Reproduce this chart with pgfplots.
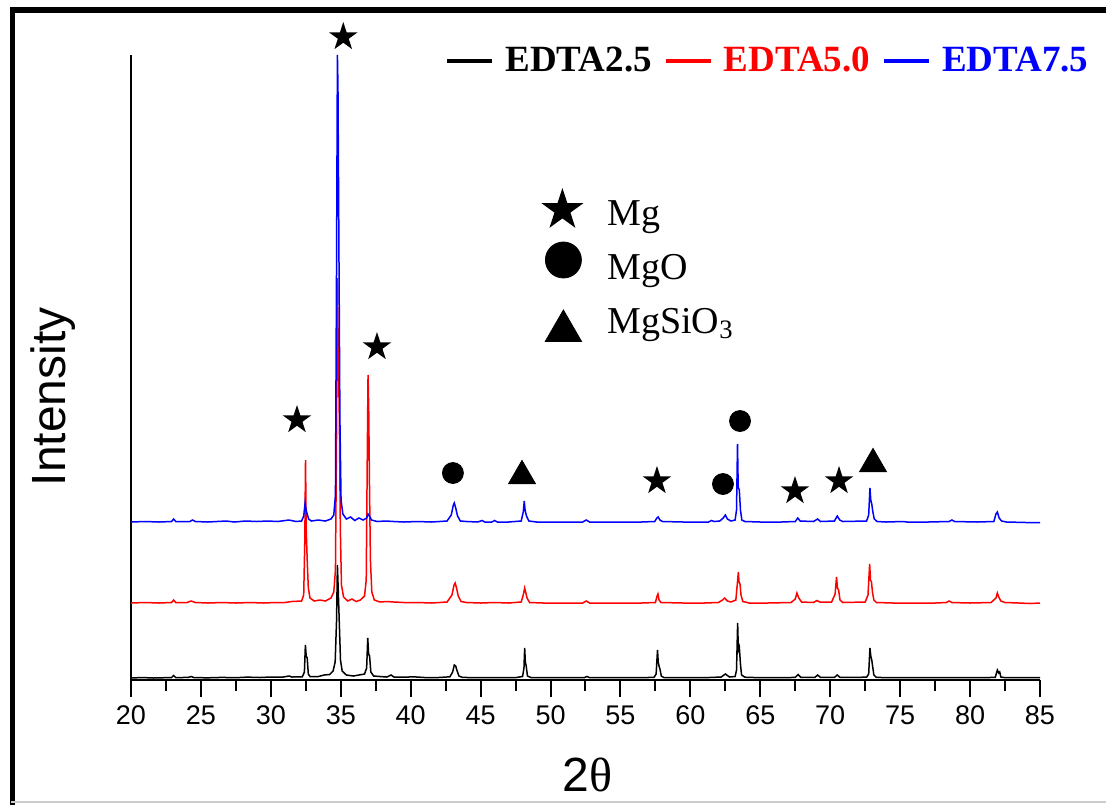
\documentclass[border=0pt]{standalone}
\usepackage{pgfplots}
\pgfplotsset{compat=1.18}
\usepackage{fontspec}
\setmainfont{Liberation Serif}
\setsansfont{Liberation Sans}
\pgfdeclareplotmark{fstar}{%
 \pgfpathmoveto{\pgfpointpolar{90}{\pgfplotmarksize}}%
 \pgfpathlineto{\pgfpointpolar{126}{0.382*\pgfplotmarksize}}%
 \pgfpathlineto{\pgfpointpolar{162}{\pgfplotmarksize}}%
 \pgfpathlineto{\pgfpointpolar{198}{0.382*\pgfplotmarksize}}%
 \pgfpathlineto{\pgfpointpolar{234}{\pgfplotmarksize}}%
 \pgfpathlineto{\pgfpointpolar{270}{0.382*\pgfplotmarksize}}%
 \pgfpathlineto{\pgfpointpolar{306}{\pgfplotmarksize}}%
 \pgfpathlineto{\pgfpointpolar{342}{0.382*\pgfplotmarksize}}%
 \pgfpathlineto{\pgfpointpolar{18}{\pgfplotmarksize}}%
 \pgfpathlineto{\pgfpointpolar{54}{0.382*\pgfplotmarksize}}%
 \pgfpathclose
 \pgfusepathqfill}
\pgfplotstableread{
x y
20.0 2
20.8 2.5
21.6 2
22.4 2.3
22.9 2.4
23.05 4.5
23.2 2.4
24.1 2.6
24.3 3.5
24.5 2.4
25.5 2.2
26.5 2.6
27.5 2.3
28.3 2.9
29.2 2.5
30.0 3.0
30.8 2.8
31.3 4.0
31.5 3.0
32.25 3.2
32.4 8
32.47 35
32.53 24
32.6 22
32.68 6
32.8 3.5
33.4 3.5
33.8 5
34.2 5.5
34.45 9
34.6 18
34.7 60
34.76 115
34.82 90
34.9 55
34.98 20
35.1 9
35.4 5
35.9 4
36.3 5
36.7 6
36.85 12
36.93 42
36.99 26
37.06 24
37.15 8
37.35 4
37.8 3.5
38.3 3
38.6 5
38.8 3
39.5 2.8
40.2 3.2
41.0 2.5
42.0 2.5
42.8 3.2
43.0 8
43.12 15
43.22 14
43.3 10
43.45 4
43.7 2.6
44.5 2.4
45.5 2.3
46.5 2.3
47.5 2.4
48.0 3.5
48.1 12
48.15 32
48.2 18
48.26 14
48.35 4
48.6 2.5
49.5 2.3
51.0 2.3
52.4 2.3
52.6 3.5
52.8 2.3
54.5 2.3
56.0 2.3
57.4 2.6
57.55 6
57.65 30
57.7 18
57.76 14
57.84 10
57.92 4
58.1 2.5
59.5 2.3
61.0 2.3
62.2 3
62.5 6
62.8 3
63.2 3.5
63.3 10
63.38 57
63.43 30
63.5 33
63.58 16
63.66 5
63.9 2.8
65.0 2.3
66.5 2.3
67.5 2.6
67.7 5.5
67.9 2.6
68.9 2.6
69.1 5
69.3 2.6
70.3 2.6
70.5 5
70.7 2.6
72.6 2.8
72.75 6
72.84 32
72.9 24
72.97 20
73.04 13
73.12 5
73.3 2.6
74.5 2.3
76.0 2.3
77.5 2.3
79.0 2.3
80.5 2.3
81.8 2.6
81.95 10
82.05 7
82.12 8
82.2 3
82.5 2.3
84.0 2.3
85.0 2.3
}\edtaA
\pgfplotstableread{
x y
20.0 77
21.0 77.5
22.0 77
22.9 77.5
23.05 80
23.2 77.5
24.0 77.5
24.3 79
24.6 77.5
25.5 77
26.5 77.5
27.5 77
28.5 77.5
29.5 77
30.3 77.5
31.0 77.5
31.5 78.5
32.2 79
32.35 85
32.43 140
32.48 220
32.53 150
32.6 120
32.68 92
32.8 82
33.1 79
33.5 80
33.9 79
34.3 82
34.5 88
34.62 110
34.7 250
34.76 402
34.82 330
34.9 260
34.97 150
35.05 95
35.2 83
35.5 79
35.8 81
36.1 78.5
36.4 80
36.7 84
36.82 100
36.9 230
36.95 305
37.0 270
37.05 200
37.12 120
37.22 88
37.4 80
37.8 78
38.3 78.5
38.8 78
39.5 77.5
40.5 77.5
41.5 77
42.6 78
42.95 85
43.1 95
43.18 97
43.28 92
43.4 84
43.6 78.5
44.0 77.5
45.0 77
46.0 77.5
47.0 77
47.9 78
48.05 85
48.15 92
48.22 88
48.32 82
48.5 77.5
49.5 77
50.5 77
52.3 77
52.55 79
52.8 77
54.5 77
56.5 77
57.5 77.5
57.62 84
57.68 86
57.76 80
57.9 77.5
59.5 77
61.0 77
62.0 77.5
62.3 80
62.45 82
62.65 79
62.9 78
63.25 80
63.35 95
63.43 108
63.48 98
63.55 96
63.62 85
63.75 78.5
64.2 77
65.5 77
67.2 77.5
67.5 81
67.62 87
67.75 82
67.95 78
68.8 77.5
69.05 79.5
69.25 78
70.1 78
70.35 86
70.45 103
70.52 92
70.6 90
70.7 80
70.9 77.5
72.5 78
72.7 85
72.82 116
72.88 100
72.95 98
73.02 88
73.12 80
73.3 77.5
74.5 77
76.0 77
77.5 77
78.3 77.5
78.5 79
78.7 77.5
80.0 77
81.5 77.5
81.85 82
81.95 87
82.05 83
82.2 79
82.5 77.5
83.5 77
84.3 76.5
85.0 77
}\edtaB
\pgfplotstableread{
x y
20.0 158
21.0 158.5
22.0 158
22.9 158.5
23.05 161
23.2 158.5
24.2 158.5
24.4 160
24.6 158.5
25.5 158
26.8 159
27.4 158
28.2 159
29.0 158.5
29.8 159
30.5 158.5
31.3 160
31.8 158.5
32.2 159
32.35 164
32.45 177
32.52 170
32.6 166
32.7 161
32.9 159
33.4 160
33.9 159
34.3 161
34.5 165
34.62 185
34.7 420
34.76 625
34.8 593
34.86 450
34.94 260
35.02 180
35.15 166
35.4 161
35.7 163
36.0 159.5
36.3 162
36.6 160
36.85 162
36.95 166
37.05 164
37.2 160
37.6 158.5
38.2 159
38.8 158.5
39.5 158
40.5 158.5
41.5 158
42.6 159
42.9 165
43.05 175
43.12 177
43.22 172
43.35 164
43.55 159
44.0 158.5
44.8 158
45.1 159.5
45.3 158
45.8 158
46.0 159.5
46.2 158
47.0 158
47.9 159
48.05 168
48.12 179
48.18 170
48.28 164
48.45 159
49.0 158
50.5 158
52.3 158
52.55 160
52.8 158
54.5 158
56.5 158
57.45 158.5
57.6 162
57.7 163
57.82 160
58.0 158.5
59.5 158
60.5 158
61.3 158
61.5 159.5
61.7 158.5
62.1 159
62.35 162
62.5 165
62.65 161
62.9 159
63.2 160
63.3 170
63.37 236
63.42 193
63.5 190
63.58 170
63.68 160
63.9 158.5
65.0 158
66.5 158
67.5 158.5
67.68 162
67.85 159
68.8 158.5
69.1 161
69.3 158.5
70.3 159
70.5 164
70.68 160
70.9 158.5
72.6 159
72.75 165
72.84 192
72.9 180
72.97 176
73.05 168
73.15 161
73.35 158.5
74.0 158
75.2 158.5
75.5 158
77.0 158
78.5 158.5
78.7 160
78.9 158.5
80.5 158
81.7 158.5
81.85 166
81.95 168
82.08 162
82.25 159
82.6 158
84.0 157.5
85.0 157.5
}\edtaC
\begin{document}
\begin{tikzpicture}
\begin{axis}[
  scale only axis,
  width=454.5pt, height=312.5pt,
  xmin=20, xmax=85, ymin=0, ymax=625,
  clip=false,
  axis x line*=bottom, axis y line*=left,
  axis line style={-, line width=1.4pt},
  xtick={20,25,...,85}, ytick=\empty,
  minor x tick num=1,
  tick align=outside,
  major tick length=8.5pt, minor tick length=5.5pt,
  tick style={line width=1pt, black},
  /pgf/number format/assume math mode=true,
  xticklabel style={font=\sffamily\fontsize{13.5}{15}\selectfont, yshift=-1pt},
  xlabel={{\sffamily 2}θ},
  xlabel style={font=\fontsize{24}{28}\selectfont, at={(axis description cs:0.502,-0.152)}, anchor=center},
  ylabel={Intensity},
  ylabel style={font=\sffamily\fontsize{24}{26}\selectfont, at={(axis description cs:-0.086,0.453)}, anchor=center, rotate=0},
  legend columns=3,
  legend image code/.code={\fill[#1, draw=none] (0pt,-1pt) rectangle (22.5pt,1pt);},
  legend style={draw=none, fill=none, inner sep=0pt, at={(axis description cs:0.3477,0.991)}, anchor=west,
    font=\bfseries\fontsize{18.5}{20}\selectfont,
    /tikz/every even column/.append style={column sep=5pt}},
]
\addplot[black, line width=0.75pt] table {\edtaA};
\addlegendentry{\hspace*{4.5pt}EDTA2.5}
\addplot[red, line width=0.75pt] table {\edtaB};
\addlegendentry{\hspace*{4.5pt}\textcolor{red}{EDTA5.0}}
\addplot[blue, line width=0.75pt] table {\edtaC};
\addlegendentry{\hspace*{4.5pt}\textcolor{blue}{EDTA7.5}}
% phase markers
\addplot[forget plot, only marks, mark=fstar, mark size=7.5pt, black] coordinates {
 (35.18,643) (37.59,333) (31.87,260) (57.61,199) (67.48,189) (70.63,199)};
\addplot[forget plot, only marks, mark=*, mark size=5.25pt, black] coordinates {
 (43.02,207) (62.33,196) (63.55,259)};
\addplot[forget plot, only marks, mark=triangle*, mark size=7.8pt, black] coordinates {
 (47.96,204) (73.06,216)};
% phase key
\addplot[forget plot, only marks, mark=fstar, mark size=11pt, black] coordinates {(50.85,470)};
\addplot[forget plot, only marks, mark=*, mark size=9pt, black] coordinates {(50.92,420)};
\addplot[forget plot, only marks, mark=triangle*, mark size=10.5pt, black] coordinates {(50.92,349)};
\node[anchor=base west, font=\fontsize{19}{21}\selectfont, inner sep=0pt] at (axis cs:54.04,455) {Mg};
\node[anchor=base west, font=\fontsize{19}{21}\selectfont, inner sep=0pt] at (axis cs:54.04,401) {MgO};
\node[anchor=base west, font=\fontsize{19}{21}\selectfont, inner sep=0pt] at (axis cs:54.04,347) {MgSiO\textsubscript{3}};
\end{axis}
\draw[line width=3pt] (-60.5pt,335pt) -- (487.5pt,335pt);
\draw[line width=2.5pt] (-59.25pt,336.5pt) -- (-59.25pt,-62.5pt);
\draw[gray!40, line width=0.8pt] (-60pt,-61pt) -- (487.5pt,-61pt);
\pgfresetboundingbox
\useasboundingbox (-65.5pt,-62.5pt) rectangle (487.5pt,340pt);
\end{tikzpicture}
\end{document}
